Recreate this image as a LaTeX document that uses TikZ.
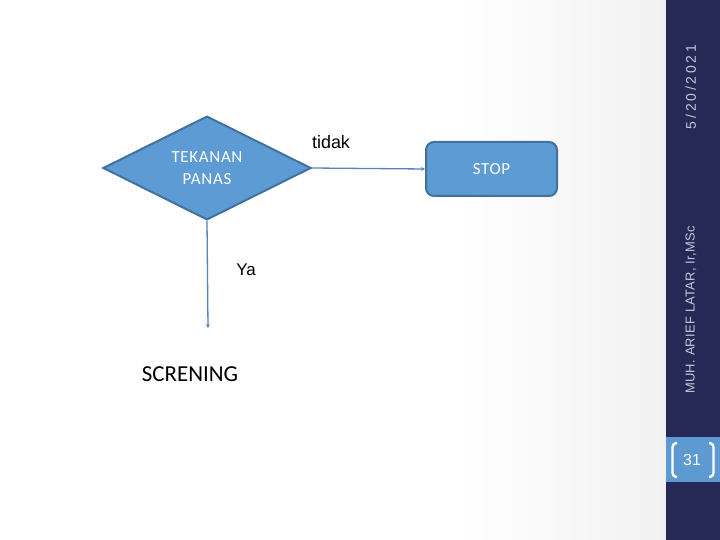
\documentclass[tikz,border=0pt]{standalone}
\usepackage{fontspec}
\setmainfont{Liberation Sans}
\newfontfamily\calibri{Carlito}
\usetikzlibrary{shapes.geometric,arrows.meta,positioning}
\definecolor{myblue}{RGB}{93,155,212}
\definecolor{myborder}{RGB}{65,113,156}
\definecolor{myline}{RGB}{84,130,190}
\definecolor{mynavy}{RGB}{38,41,85}
\definecolor{mypage}{RGB}{93,154,210}
\definecolor{mygrey}{RGB}{196,200,218}

\tikzset{
  flowbox/.style={draw=myborder, line width=2bp, fill=myblue, text=white, font=\calibri\fontsize{17}{22}\selectfont\addfontfeatures{LetterSpace=4}, align=center},
  flowline/.style={draw=myline, line width=1.3bp, -{Stealth[length=4bp,width=4bp]}},
  sidetext/.style={rotate=90, text=mygrey, inner sep=0pt}
}

\begin{document}
\begin{tikzpicture}[x=1bp,y=-1bp]
  \useasboundingbox (0,0) rectangle (720,540);
  % background
  \fill[white] (0,0) rectangle (667,540);
  \shade[left color=white, right color=gray!11] (460,0) rectangle (667,540);
  \fill[mynavy] (666,0) rectangle (720,540);

  \node[flowbox, diamond, inner sep=0pt, minimum width=208bp, minimum height=100bp] (tek) at (207,168) {TEKANAN\\PANAS};
  \node[flowbox, rectangle, rounded corners=8bp, minimum width=131bp, minimum height=54bp] (stop) at (491.5,169) {STOP};
  \coordinate (yaend) at (208,328);

  \draw[flowline] (tek.east) -- (stop.west);
  \draw[flowline] (tek.south) -- (yaend);

  \node[font=\fontsize{18}{20}\selectfont] (tidak) at (331,142) {tidak};
  \node[font=\fontsize{17}{20}\selectfont] (ya) at (246,270) {Ya};
  \node[font=\calibri\fontsize{23}{27}\selectfont] (scr) at (190,374) {SCRENING};

  % Sidebar
  \node[sidetext, font=\fontsize{14}{16}\selectfont\addfontfeatures{LetterSpace=20}] (date) at (691,87) {5/20/2021};
  \node[sidetext, font=\fontsize{13}{15}\selectfont\addfontfeatures{LetterSpace=2}] (author) at (691,310) {MUH. ARIEF LATAR, Ir,MSc};
  \fill[mypage] (666,437) rectangle (720,482);
  \node[text=white, font=\fontsize{16}{18}\selectfont] (page) at (692,460) {31};
  \draw[white, line width=2.4bp, rounded corners=3bp] (677,443) -- (672.5,444) -- (672.5,476) -- (677,477);
  \draw[white, line width=2.4bp, rounded corners=3bp] (709,443) -- (713.5,444) -- (713.5,476) -- (709,477);
\end{tikzpicture}
\end{document}
